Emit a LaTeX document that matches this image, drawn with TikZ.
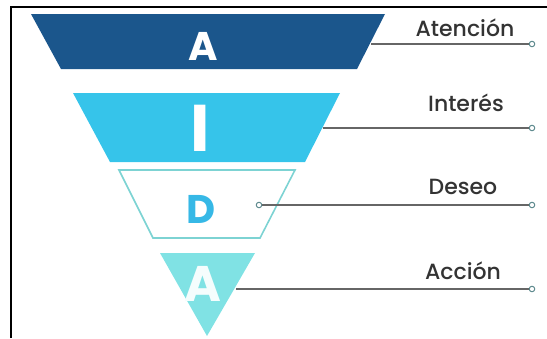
\documentclass[tikz,border=0pt]{standalone}
\usepackage{fontspec}
\setmainfont{Poppins}
\newfontfamily\namefont{Poppins Medium}
\usetikzlibrary{positioning}

\definecolor{darkband}{HTML}{1B568C}
\definecolor{lightband}{HTML}{36C4EA}
\definecolor{outlineband}{HTML}{7DD3D3}
\definecolor{letterD}{HTML}{36B8E6}
\definecolor{tipband}{HTML}{80E2E4}
\definecolor{leadgray}{HTML}{666666}
\definecolor{dotrim}{HTML}{5E8A8E}

\tikzset{
	lead/.style={leadgray, line width=1.6pt},
	enddot/.style={circle, draw=dotrim, fill=white, line width=1pt, inner sep=0pt, minimum size=5.5pt},
	stagename/.style={font=\namefont\fontsize{22}{22}\selectfont, text=black!80},
	bigletter/.style={text=white, font=\bfseries, inner sep=0pt}
}

\begin{document}
\begin{tikzpicture}[x=1pt,y=-1pt]
	\useasboundingbox (0,0) rectangle (547,338);
	% frame
	\draw[line width=1.6pt] (11,338) -- (11,7) -- (547,7);
	
	% top band
	\fill[darkband] (31,14) -- (385,14) -- (357,69) -- (61,69) -- cycle;
	\node[bigletter, font=\bfseries\fontsize{40}{40}\selectfont] (letA) at (203,46) {A};
	% second band
	\fill[lightband] (73,93) -- (340,93) -- (305,162) -- (110,162) -- cycle;
	\node[bigletter, font=\bfseries\fontsize{66}{66}\selectfont] (letI) at (200,128) {I};
	% third band
	\draw[outlineband, line width=1.6pt] (119,170) -- (295,170) -- (260,238) -- (153,238) -- cycle;
	\node[bigletter, text=letterD, font=\bfseries\fontsize{40}{40}\selectfont] (letD) at (201,209) {D};
	% tip
	\fill[tipband] (160,253) -- (255,253) -- (207,336) -- cycle;
	\node[bigletter, text=white!92!tipband, font=\bfseries\fontsize{50}{50}\selectfont] (letA2) at (203,284) {A};
	
	% leads
	\coordinate (s1) at (371,44);
	\coordinate (s2) at (323,128);
	\coordinate (s4) at (236,289);
	\node[enddot] (e1) at (532,44) {};
	\node[enddot] (e2) at (532,128) {};
	\node[enddot] (s3) at (259,205) {};
	\node[enddot] (e3) at (532,205) {};
	\node[enddot] (e4) at (532,289) {};
	\draw[lead] (s1) -- (e1);
	\draw[lead] (s2) -- (e2);
	\draw[lead] (s3) -- (e3);
	\draw[lead] (s4) -- (e4);
	
	% names
	\node[stagename] (atencion) at (465,28) {Atención};
	\node[stagename] (interes) at (466,103) {Interés};
	\node[stagename] (deseo) at (463,187) {Deseo};
	\node[stagename] (accion) at (463,271) {Acción};
\end{tikzpicture}
\end{document}
